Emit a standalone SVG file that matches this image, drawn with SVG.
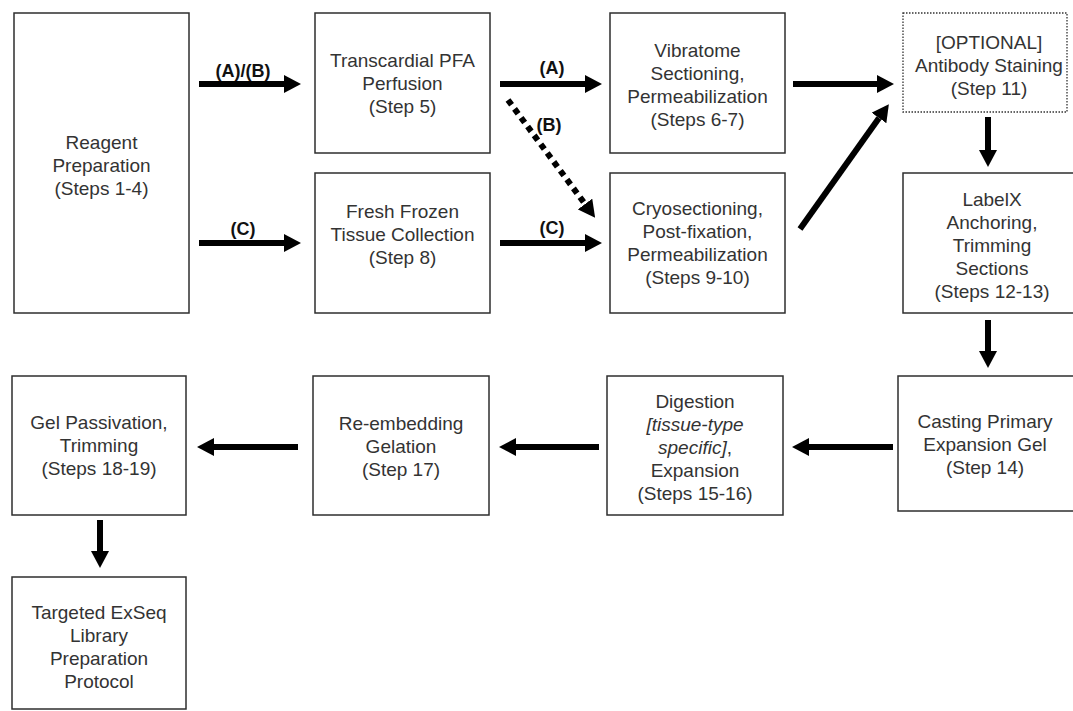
<svg xmlns="http://www.w3.org/2000/svg" width="1073" height="711" viewBox="0 0 1073 711">
<defs>
<marker id="ah" viewBox="0 0 17 18" markerWidth="17" markerHeight="18" markerUnits="userSpaceOnUse" refX="0" refY="9" orient="auto">
<path d="M0,0 L17,9 L0,18 z" fill="#000"/>
</marker>
<style>
.box{fill:#fff;stroke:#2e2e2e;stroke-width:1.5}
.dbox{fill:#fff;stroke:#333;stroke-width:1.3;stroke-dasharray:1.5 1.5}
.t{font-family:"Liberation Sans",Arial,sans-serif;font-size:19px;fill:#333;text-anchor:middle}
.lbl{font-family:"Liberation Sans",Arial,sans-serif;font-size:18px;font-weight:bold;fill:#111;text-anchor:middle}
.ar{fill:none;stroke:#000;stroke-width:6;marker-end:url(#ah)}
.dot{fill:none;stroke:#000;stroke-width:6;stroke-dasharray:6 5;marker-end:url(#ah)}
</style>
</defs>
<rect width="1073" height="711" fill="#fff"/>

<g id="connectors">
<path class="ar" d="M199,84 H284"/>
<path class="ar" d="M199,243 H284"/>
<path class="ar" d="M500,84 H585"/>
<path class="ar" d="M500,243 H585"/>
<path class="dot" d="M508,100 L585,204"/>
<path class="ar" d="M793,84 H877"/>
<path class="ar" d="M800,229 L879,118"/>
<path class="ar" d="M988,117 V150"/>
<path class="ar" d="M988,320 V351"/>
<path class="ar" d="M893,447 H809"/>
<path class="ar" d="M599,447 H516"/>
<path class="ar" d="M298,447 H214"/>
<path class="ar" d="M100,520 V551"/>
<text class="lbl" x="243" y="77">(A)/(B)</text>
<text class="lbl" x="243" y="235">(C)</text>
<text class="lbl" x="552" y="74">(A)</text>
<text class="lbl" x="549" y="131">(B)</text>
<text class="lbl" x="552" y="234">(C)</text>
</g>

<g id="reagent">
<rect class="box" x="14" y="13" width="175" height="300"/>
<text class="t" x="101.5" y="149">Reagent</text>
<text class="t" x="101.5" y="172">Preparation</text>
<text class="t" x="101.5" y="195">(Steps 1-4)</text>
</g>

<g id="perfusion">
<rect class="box" x="315" y="13" width="175" height="140"/>
<text class="t" x="402.5" y="67">Transcardial PFA</text>
<text class="t" x="402.5" y="90">Perfusion</text>
<text class="t" x="402.5" y="113">(Step 5)</text>
</g>

<g id="fresh-frozen">
<rect class="box" x="315" y="173" width="175" height="140"/>
<text class="t" x="402.5" y="218">Fresh Frozen</text>
<text class="t" x="402.5" y="241">Tissue Collection</text>
<text class="t" x="402.5" y="264">(Step 8)</text>
</g>

<g id="vibratome">
<rect class="box" x="610" y="13" width="175" height="140"/>
<text class="t" x="697.5" y="57">Vibratome</text>
<text class="t" x="697.5" y="80">Sectioning,</text>
<text class="t" x="697.5" y="103">Permeabilization</text>
<text class="t" x="697.5" y="126">(Steps 6-7)</text>
</g>

<g id="cryo">
<rect class="box" x="610" y="173" width="175" height="140"/>
<text class="t" x="697.5" y="215">Cryosectioning,</text>
<text class="t" x="697.5" y="238">Post-fixation,</text>
<text class="t" x="697.5" y="261">Permeabilization</text>
<text class="t" x="697.5" y="284">(Steps 9-10)</text>
</g>

<g id="antibody">
<rect class="dbox" x="903" y="13" width="164" height="99"/>
<text class="t" x="989" y="49">[OPTIONAL]</text>
<text class="t" x="989" y="72">Antibody Staining</text>
<text class="t" x="989" y="95">(Step 11)</text>
</g>

<g id="labelx">
<rect class="box" x="903" y="173" width="180" height="140"/>
<text class="t" x="992" y="206">LabelX</text>
<text class="t" x="992" y="229">Anchoring,</text>
<text class="t" x="992" y="252">Trimming</text>
<text class="t" x="992" y="275">Sections</text>
<text class="t" x="992" y="298">(Steps 12-13)</text>
</g>

<g id="casting">
<rect class="box" x="898" y="376" width="180" height="135"/>
<text class="t" x="985" y="428">Casting Primary</text>
<text class="t" x="985" y="451">Expansion Gel</text>
<text class="t" x="985" y="474">(Step 14)</text>
</g>

<g id="digestion">
<rect class="box" x="607" y="376" width="176" height="139"/>
<text class="t" x="695" y="408">Digestion</text>
<text class="t" x="695" y="431" font-style="italic">[tissue-type</text>
<text class="t" x="695" y="454"><tspan font-style="italic">specific]</tspan>,</text>
<text class="t" x="695" y="477">Expansion</text>
<text class="t" x="695" y="500">(Steps 15-16)</text>
</g>

<g id="reembedding">
<rect class="box" x="313" y="376" width="176" height="139"/>
<text class="t" x="401" y="430">Re-embedding</text>
<text class="t" x="401" y="453">Gelation</text>
<text class="t" x="401" y="476">(Step 17)</text>
</g>

<g id="passivation">
<rect class="box" x="12" y="376" width="174" height="139"/>
<text class="t" x="99" y="429">Gel Passivation,</text>
<text class="t" x="99" y="452">Trimming</text>
<text class="t" x="99" y="475">(Steps 18-19)</text>
</g>

<g id="library">
<rect class="box" x="12" y="577" width="174" height="132"/>
<text class="t" x="99" y="619">Targeted ExSeq</text>
<text class="t" x="99" y="642">Library</text>
<text class="t" x="99" y="665">Preparation</text>
<text class="t" x="99" y="688">Protocol</text>
</g>
</svg>
